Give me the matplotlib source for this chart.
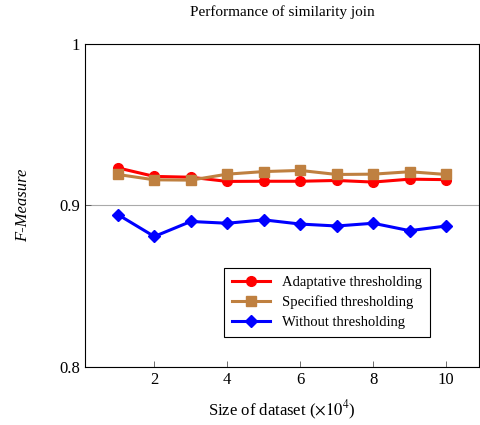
import matplotlib.pyplot as plt

plt.rcParams['font.family'] = ['Liberation Serif', 'DejaVu Serif']
plt.rcParams['mathtext.fontset'] = 'stix'

# data
sizes = [1, 2, 3, 4, 5, 6, 7, 8, 9, 10]
adaptative = [0.9233, 0.9180, 0.9175, 0.9149, 0.9150, 0.9150, 0.9155, 0.9145, 0.9163, 0.9160]
specified = [0.9192, 0.9159, 0.9157, 0.9194, 0.9210, 0.9217, 0.9192, 0.9194, 0.9209, 0.9192]
without = [0.8944, 0.8808, 0.8901, 0.8890, 0.8911, 0.8885, 0.8873, 0.8890, 0.8844, 0.8873]

fig = plt.figure(figsize=(4.8, 4.25), dpi=100)
ax = fig.add_axes([0.177, 0.1365, 0.821, 0.76])

ax.plot(sizes, adaptative, color='#FF0000', lw=2.2, marker='o', ms=7,
        label='Adaptative thresholding', zorder=3)
ax.plot(sizes, specified, color='#BF8040', lw=2.2, marker='s', ms=7,
        label='Specified thresholding', zorder=3)
ax.plot(sizes, without, color='#0000FF', lw=2.2, marker='D', ms=6,
        label='Without thresholding', zorder=3)

ax.set_xlim(0.1, 10.9)
ax.set_ylim(0.8, 1.0)
ax.set_xticks([2, 4, 6, 8, 10])
ax.set_yticks([0.8, 0.9, 1.0])
ax.set_yticklabels(['0.8', '0.9', '1'])
ax.tick_params(direction='in', length=4, width=0.6, labelsize=12, color='#555555')
ax.yaxis.grid(True, color='#aaaaaa', lw=0.8)
for s in ax.spines.values():
    s.set_linewidth(0.8)

ax.set_title('Performance of similarity join', fontsize=11, pad=20)
ax.set_xlabel(r'Size of dataset ($\times10^4$)', fontsize=12, labelpad=8)
ax.set_ylabel('F-Measure', fontsize=12, style='italic', labelpad=20)

leg = ax.legend(loc='lower right', bbox_to_anchor=(0.893, 0.07), fontsize=10.5,
                fancybox=False, edgecolor='black', framealpha=1,
                handlelength=2.6, borderpad=0.55, labelspacing=0.45)
leg.get_frame().set_linewidth(0.8)

fig.savefig('out.png')
